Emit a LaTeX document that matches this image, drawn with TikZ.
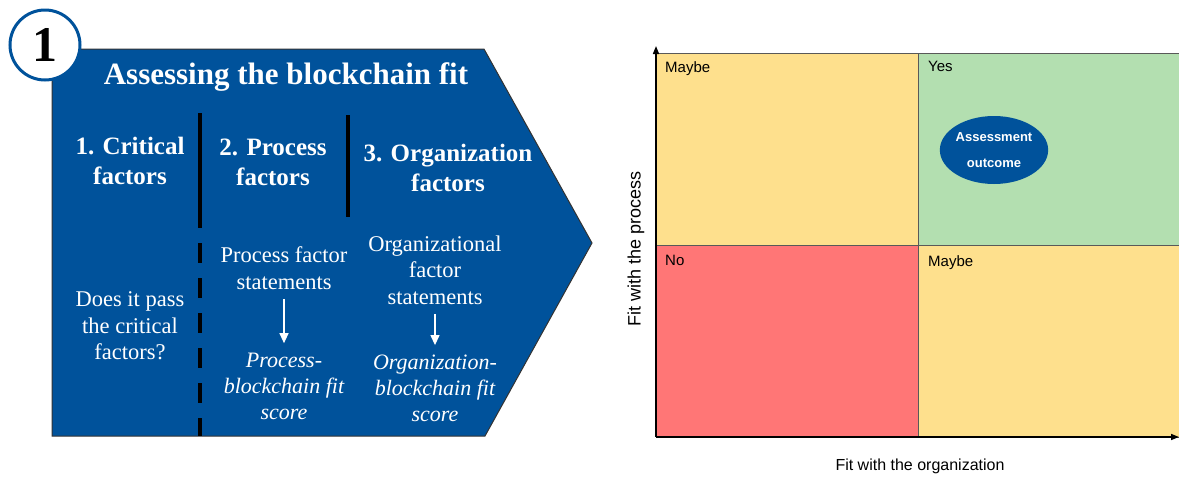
\documentclass[tikz,border=0pt]{standalone}
\usepackage{fontspec}
\setmainfont{Liberation Serif}
\setsansfont{Liberation Sans}
\usetikzlibrary{positioning,arrows.meta,shapes.geometric}

\definecolor{fitblue}{RGB}{0,82,155}
\definecolor{quadyellow}{RGB}{254,224,141}
\definecolor{quadgreen}{RGB}{179,223,176}
\definecolor{quadred}{RGB}{255,118,118}

\begin{document}
\begin{tikzpicture}[x=1pt,y=-1pt,
   head/.style={text=white,align=center,font=\fontsize{25}{30}\selectfont\bfseries},
   body/.style={text=white,align=center,font=\fontsize{22.5}{26.5}\selectfont},
   score/.style={body,font=\fontsize{22}{26}\selectfont\itshape},
   divider/.style={line width=4.5pt},
   flow/.style={draw=white,line width=1.2pt,-{Triangle[width=9pt,length=10pt]},
                shorten <=6pt,shorten >=6pt},
   quad/.style={draw=black!65,line width=0.8pt},
   qlabel/.style={anchor=north west,inner sep=0pt,font=\sffamily\fontsize{15}{18}\selectfont},
   axis/.style={line width=1.5pt,-{Triangle[width=6pt,length=8pt]}}]
   \useasboundingbox (0,0) rectangle (1179,477);

   % step 1: the arrow shape
   \draw[fill=fitblue,draw=black!80,line width=1pt]
      (52,49) -- (484,49) -- (592,243) -- (485,436) -- (52,436) -- cycle;
   \node[circle,draw=fitblue,line width=3pt,fill=white,minimum size=70pt,inner sep=0pt,
         font=\fontsize{50}{50}\selectfont\bfseries] (one) at (45,45) {1};
   \node[text=white,font=\fontsize{31}{36}\selectfont\bfseries] (title) at (286,77)
      {Assessing the blockchain fit};

   \node[head] (crit) at (130,161) {1. Critical\\factors};
   \node[head] (proc) at (273,162) {2. Process\\factors};
   \node[head] (org)  at (448,168) {3. Organization\\factors};

   \draw[divider] (200,113) -- (200,228);
   \draw[divider] (348,115) -- (348,217);
   \draw[divider,dash pattern=on 20pt off 15pt] (200,243) -- (200,436);

   \node[body]  (pass)   at (130,326) {Does it pass\\the critical\\factors?};
   \node[body]  (pstm)   at (284,268) {Process factor\\statements};
   \node[score] (pscore) at (284,386) {Process-\\blockchain fit\\score};
   \node[body]  (ostm)   at (435,270) {Organizational\\factor\\statements};
   \node[score] (oscore) at (435,388) {Organization-\\blockchain fit\\score};
   \draw[flow] (pstm) -- (pscore);
   \draw[flow] (ostm) -- (oscore);

   % fit matrix
   \draw[quad,fill=quadyellow] (656,53)  rectangle (918,245);
   \draw[quad,fill=quadgreen]  (918,53)  rectangle (1182,245);
   \draw[quad,fill=quadred]    (656,245) rectangle (918,437);
   \draw[quad,fill=quadyellow] (918,245) rectangle (1182,437);

   \node[qlabel] (maybetl) at (665,61)  {Maybe};
   \node[qlabel] (yes)     at (928,61)  {Yes};
   \node[qlabel] (no)      at (665,255) {No};
   \node[qlabel] (maybebr) at (928,255) {Maybe};

   \node[ellipse,fill=fitblue,text=white,minimum width=104pt,minimum height=68pt,
         inner sep=0pt,align=center,font=\sffamily\bfseries\fontsize{13}{26}\selectfont]
      (outcome) at (994,150) {Assessment\\outcome};

   \coordinate (origin) at (656,437);
   \coordinate (ytop)   at (656,46);
   \coordinate (xend)   at (1179,437);
   \draw[axis] (origin) -- (ytop);
   \draw[axis] (origin) -- (xend);

   \node[font=\sffamily\fontsize{16}{19}\selectfont] (xlab) at (920,466)
      {Fit with the organization};
   \node[rotate=90,font=\sffamily\fontsize{18}{21}\selectfont] (ylab) at (636,249)
      {Fit with the process};
\end{tikzpicture}
\end{document}
